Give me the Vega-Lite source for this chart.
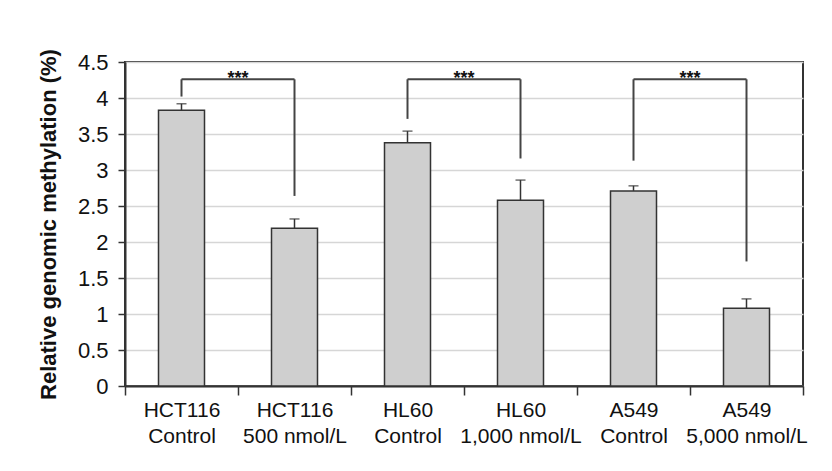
{
  "$schema": "https://vega.github.io/schema/vega-lite/v6.json",
  "width": 678,
  "height": 324,
  "autosize": {"type": "none"},
  "padding": {"left": 125, "top": 62, "right": 29, "bottom": 85},
  "background": "white",
  "config": {
    "font": "Liberation Sans",
    "view": {"stroke": "#333333", "strokeWidth": 2},
    "axis": {
      "labelColor": "#111111", "titleColor": "#111111",
      "labelFont": "Liberation Sans", "titleFont": "Liberation Sans",
      "tickColor": "#333333", "tickWidth": 1.5,
      "domainColor": "#333333", "domainWidth": 2
    },
    "axisX": {
      "labelAngle": 0,
      "labelFontSize": 21,
      "labelLineHeight": 26,
      "labelBaseline": "top",
      "labelPadding": 4,
      "tickBand": "extent",
      "tickSize": 9,
      "grid": false
    },
    "axisY": {
      "tickCount": 10,
      "labelFontSize": 22,
      "labelPadding": 10,
      "tickSize": 7,
      "gridColor": "#d6d6d6",
      "gridWidth": 1.5,
      "titleFontSize": 22,
      "titleFontWeight": "bold",
      "titlePadding": 17
    }
  },
  "datasets": {
    "bars": [
      {"group": "HCT116|Control", "value": 3.83, "upper": 3.92},
      {"group": "HCT116|500 nmol/L", "value": 2.19, "upper": 2.32},
      {"group": "HL60|Control", "value": 3.38, "upper": 3.54},
      {"group": "HL60|1,000 nmol/L", "value": 2.58, "upper": 2.86},
      {"group": "A549|Control", "value": 2.71, "upper": 2.78},
      {"group": "A549|5,000 nmol/L", "value": 1.08, "upper": 1.21}
    ],
    "hseg": [
      {"group": "HCT116|Control", "group2": "HCT116|500 nmol/L", "y": 4.26},
      {"group": "HL60|Control", "group2": "HL60|1,000 nmol/L", "y": 4.26},
      {"group": "A549|Control", "group2": "A549|5,000 nmol/L", "y": 4.26}
    ],
    "vseg": [
      {"group": "HCT116|Control", "y": 4.02, "y2": 4.26},
      {"group": "HCT116|500 nmol/L", "y": 2.64, "y2": 4.26},
      {"group": "HL60|Control", "y": 3.71, "y2": 4.26},
      {"group": "HL60|1,000 nmol/L", "y": 3.16, "y2": 4.26},
      {"group": "A549|Control", "y": 3.13, "y2": 4.26},
      {"group": "A549|5,000 nmol/L", "y": 1.73, "y2": 4.26}
    ],
    "stars": [
      {"group": "HCT116|Control", "label": "***", "y": 4.19},
      {"group": "HL60|Control", "label": "***", "y": 4.19},
      {"group": "A549|Control", "label": "***", "y": 4.19}
    ]
  },
  "layer": [
    {
      "data": {"name": "bars"},
      "mark": {"type": "bar", "size": 46, "fill": "#cfcfcf", "stroke": "#333333", "strokeWidth": 1.5},
      "encoding": {
        "x": {
          "field": "group", "type": "nominal", "sort": null, "title": null,
          "scale": {
            "domain": ["HCT116|Control", "HCT116|500 nmol/L", "HL60|Control", "HL60|1,000 nmol/L", "A549|Control", "A549|5,000 nmol/L"],
            "paddingInner": 0, "paddingOuter": 0
          },
          "axis": {"labelExpr": "datum.value ? split(datum.value, '|') : ''"}
        },
        "y": {
          "field": "value", "type": "quantitative",
          "title": "Relative genomic methylation (%)",
          "scale": {"domain": [0, 4.5], "nice": false, "zero": true},
          "axis": {"format": "~g"}
        }
      }
    },
    {
      "data": {"name": "bars"},
      "mark": {"type": "rule", "color": "#333333", "strokeWidth": 1.5},
      "encoding": {
        "x": {"field": "group", "type": "nominal", "sort": null, "title": null},
        "y": {"field": "value", "type": "quantitative"},
        "y2": {"field": "upper"}
      }
    },
    {
      "data": {"name": "bars"},
      "mark": {"type": "tick", "color": "#333333", "size": 10, "thickness": 1.5},
      "encoding": {
        "x": {"field": "group", "type": "nominal", "sort": null, "title": null},
        "y": {"field": "upper", "type": "quantitative"}
      }
    },
    {
      "data": {"name": "hseg"},
      "mark": {"type": "rule", "color": "#444444", "strokeWidth": 2},
      "encoding": {
        "x": {"field": "group", "type": "nominal", "sort": null, "title": null},
        "x2": {"field": "group2"},
        "y": {"field": "y", "type": "quantitative"}
      }
    },
    {
      "data": {"name": "vseg"},
      "mark": {"type": "rule", "color": "#444444", "strokeWidth": 2},
      "encoding": {
        "x": {"field": "group", "type": "nominal", "sort": null, "title": null},
        "y": {"field": "y", "type": "quantitative"},
        "y2": {"field": "y2"}
      }
    },
    {
      "data": {"name": "stars"},
      "mark": {"type": "text", "fontSize": 18, "fontWeight": "bold", "color": "#111111", "baseline": "alphabetic", "align": "center"},
      "encoding": {
        "x": {"field": "group", "type": "nominal", "sort": null, "title": null, "bandPosition": 1},
        "y": {"field": "y", "type": "quantitative"},
        "text": {"field": "label"}
      }
    }
  ]
}
